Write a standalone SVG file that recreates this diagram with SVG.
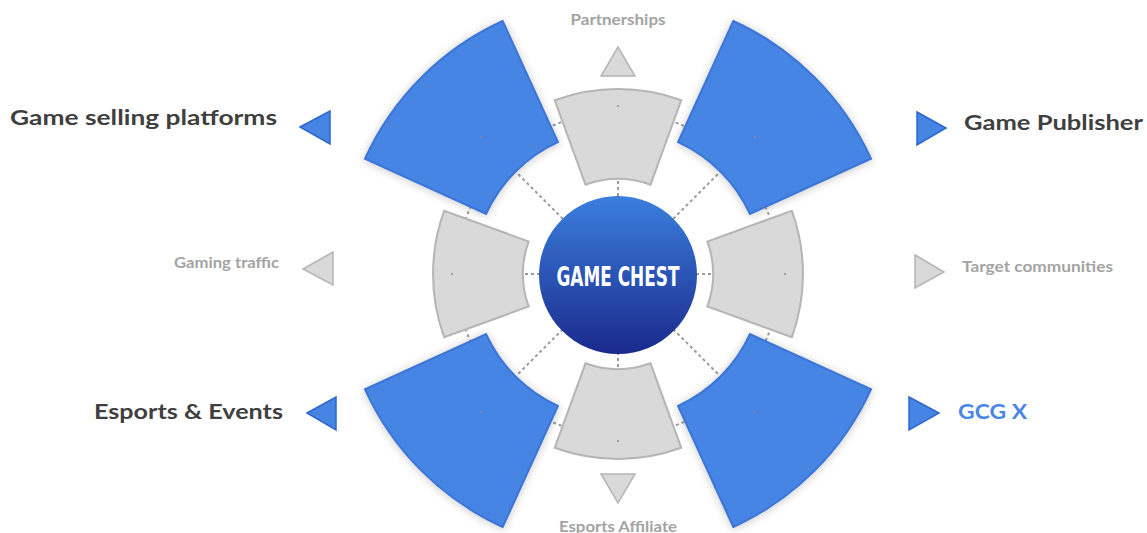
<svg xmlns="http://www.w3.org/2000/svg" width="1147" height="533" viewBox="0 0 1147 533">
<defs>
<linearGradient id="cg" x1="0" y1="0" x2="0" y2="1">
<stop offset="0" stop-color="#3b7fdd"/>
<stop offset="1" stop-color="#1a2a8c"/>
</linearGradient>
<filter id="sh" x="-20%" y="-20%" width="140%" height="140%">
<feDropShadow dx="0" dy="1" stdDeviation="4" flood-color="#000" flood-opacity="0.22"/>
</filter>
<style>
.dot{fill:none;stroke:#9a9a9a;stroke-width:2;stroke-dasharray:3 3}
.gs{fill:#d9d9d9;stroke:#b5b5b5;stroke-width:2}
.bs{fill:#4785e4;stroke:#3b74d6;stroke-width:2;filter:url(#sh)}
.gt{fill:#d9d9d9;stroke:#b5b5b5;stroke-width:1.5}
.bt{fill:#4785e4;stroke:#2f66cc;stroke-width:1.5}
.pin{fill:#8a8a8a}
.lab{font-family:Lato,"Open Sans",sans-serif;font-weight:700;font-size:21px;fill:#3f3f3f}
.sub{font-family:Lato,"Open Sans",sans-serif;font-weight:700;font-size:15px;fill:#a3a3a3}
</style>
</defs>
<rect width="1147" height="533" fill="#ffffff"/>
<g id="connectors">
<circle class="dot" cx="618" cy="274" r="162"/>
<line class="dot" x1="618" y1="274" x2="618" y2="170"/>
<line class="dot" x1="618" y1="274" x2="618" y2="378"/>
<line class="dot" x1="618" y1="274" x2="514" y2="274"/>
<line class="dot" x1="618" y1="274" x2="722" y2="274"/>
<line class="dot" x1="618" y1="274" x2="512" y2="168"/>
<line class="dot" x1="618" y1="274" x2="724" y2="168"/>
<line class="dot" x1="618" y1="274" x2="512" y2="380"/>
<line class="dot" x1="618" y1="274" x2="724" y2="380"/>
</g>
<g id="seg-top">
<path class="gs" d="M554.7,100.2 A185,185 0 0 1 681.3,100.2 L650.5,184.7 A95,95 0 0 0 585.5,184.7 Z"/>
<circle class="pin" cx="618" cy="106" r="1"/>
</g>
<g id="seg-right">
<path class="gs" d="M791.8,210.7 A185,185 0 0 1 791.8,337.3 L707.3,306.5 A95,95 0 0 0 707.3,241.5 Z"/>
<circle class="pin" cx="785" cy="274" r="1"/>
</g>
<g id="seg-bottom">
<path class="gs" d="M681.3,447.8 A185,185 0 0 1 554.7,447.8 L585.5,363.3 A95,95 0 0 0 650.5,363.3 Z"/>
<circle class="pin" cx="618" cy="441" r="1"/>
</g>
<g id="seg-left">
<path class="gs" d="M444.2,337.3 A185,185 0 0 1 444.2,210.7 L528.7,241.5 A95,95 0 0 0 528.7,306.5 Z"/>
<circle class="pin" cx="452" cy="274" r="1"/>
</g>
<g id="seg-top-left">
<path class="bs" d="M502.7,21 A278,278 0 0 0 365,158.7 L486.1,213.9 A145,145 0 0 1 557.9,142.1 Z"/>
<circle class="pin" cx="481" cy="137" r="1"/>
</g>
<g id="seg-top-right">
<path class="bs" d="M733.3,21 A278,278 0 0 1 871,158.7 L749.9,213.9 A145,145 0 0 0 678.1,142.1 Z"/>
<circle class="pin" cx="755" cy="137" r="1"/>
</g>
<g id="seg-bottom-right">
<path class="bs" d="M871,389.3 A278,278 0 0 1 733.3,527 L678.1,405.9 A145,145 0 0 0 749.9,334.1 Z"/>
<circle class="pin" cx="755" cy="412" r="1"/>
</g>
<g id="seg-bottom-left">
<path class="bs" d="M502.7,527 A278,278 0 0 1 365,389.3 L486.1,334.1 A145,145 0 0 0 557.9,405.9 Z"/>
<circle class="pin" cx="481" cy="412" r="1"/>
</g>
<g id="center">
<circle cx="618" cy="275" r="79" fill="url(#cg)"/>
<text x="618" y="286" text-anchor="middle" textLength="123" lengthAdjust="spacingAndGlyphs" font-family="'DejaVu Sans Condensed','DejaVu Sans',sans-serif" font-weight="700" font-size="27" fill="#ffffff">GAME CHEST</text>
</g>
<g id="partnerships">
<polygon class="gt" points="618,47 635,76 601,76"/>
<text class="sub" x="618" y="25" text-anchor="middle" textLength="95" lengthAdjust="spacingAndGlyphs">Partnerships</text>
</g>
<g id="esports-affiliate">
<polygon class="gt" points="601,474 635,474 618,503"/>
<text class="sub" x="618" y="532" text-anchor="middle" textLength="118" lengthAdjust="spacingAndGlyphs">Esports Affiliate</text>
</g>
<g id="gaming-traffic">
<polygon class="gt" points="303,269 333,252 333,285"/>
<text class="sub" x="174" y="268" textLength="105" lengthAdjust="spacingAndGlyphs">Gaming traffic</text>
</g>
<g id="target-communities">
<polygon class="gt" points="915,255 944,272 915,288"/>
<text class="sub" x="962" y="272" textLength="151" lengthAdjust="spacingAndGlyphs">Target communities</text>
</g>
<g id="game-selling-platforms">
<polygon class="bt" points="300,127 330,111 330,144"/>
<text class="lab" x="10" y="125" textLength="267" lengthAdjust="spacingAndGlyphs">Game selling platforms</text>
</g>
<g id="game-publisher">
<polygon class="bt" points="917,112 946,128 917,145"/>
<text class="lab" x="964" y="130" textLength="179" lengthAdjust="spacingAndGlyphs">Game Publisher</text>
</g>
<g id="esports-events">
<polygon class="bt" points="307,413 336,397 336,430"/>
<text class="lab" x="94" y="419" textLength="189" lengthAdjust="spacingAndGlyphs">Esports &amp; Events</text>
</g>
<g id="gcg-x">
<polygon class="bt" points="909,397 939,413 909,430"/>
<text class="lab" x="958" y="419" textLength="69" lengthAdjust="spacingAndGlyphs" style="fill:#4a86e8">GCG X</text>
</g>
</svg>
